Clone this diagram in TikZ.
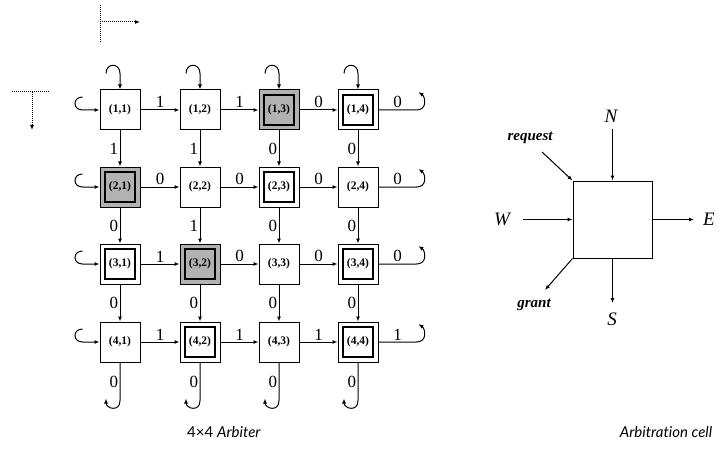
\documentclass[tikz,border=0pt]{standalone}
\usepackage{fontspec}
\setmainfont{Liberation Serif}
\newfontfamily\capfont[Ligatures=NoCommon]{Lato}
\usetikzlibrary{arrows.meta,calc}
\begin{document}
\begin{tikzpicture}[x=1pt,y=-1pt,
  tip/.style={-{Latex[length=5pt,width=4pt]}},
  wire/.style={line width=1pt},
  cellbox/.style={draw,line width=1pt,minimum size=40pt,inner sep=0pt,
    font=\fontsize{11.5}{11.5}\selectfont\bfseries},
  dblbox/.style={cellbox,path picture={
    \draw[line width=1.3pt]
      ([shift={(5pt,-5pt)}]path picture bounding box.north west) rectangle
      ([shift={(-5pt,5pt)}]path picture bounding box.south east);}},
  grantbox/.style={dblbox,fill=black!30},
  lbl/.style={font=\fontsize{17}{17}\selectfont,inner sep=1.5pt},
  dir/.style={font=\fontsize{19}{19}\selectfont\itshape,inner sep=0pt},
  sig/.style={font=\fontsize{15}{15}\selectfont\bfseries\itshape,inner sep=0pt},
  leg/.style={densely dotted,line width=1pt},
  captxt/.style={font=\capfont\fontsize{15}{15}\selectfont}
]
\useasboundingbox (0,0) rectangle (719,465);

% ---------- legend ----------
\coordinate (la) at (100,5);
\coordinate (lb) at (100,42);
\coordinate (lc) at (100,22);
\coordinate (ld) at (140,22);
\draw[leg] (la) -- (lb);
\draw[leg,tip] (lc) -- (ld);
\coordinate (ma) at (12,92);
\coordinate (mb) at (50,92);
\coordinate (mc) at (32,92);
\coordinate (md) at (32,130);
\draw[leg] (ma) -- (mb);
\draw[leg,tip] (mc) -- (md);

% ---------- cells ----------
\node[cellbox]  (c11) at (120,110) {(1,1)};
\node[cellbox]  (c12) at (200,110) {(1,2)};
\node[grantbox] (c13) at (279,110) {(1,3)};
\node[dblbox]   (c14) at (358,110) {(1,4)};
\node[grantbox] (c21) at (120,187) {(2,1)};
\node[cellbox]  (c22) at (200,187) {(2,2)};
\node[dblbox]   (c23) at (279,187) {(2,3)};
\node[cellbox]  (c24) at (358,187) {(2,4)};
\node[dblbox]   (c31) at (120,264) {(3,1)};
\node[grantbox] (c32) at (200,264) {(3,2)};
\node[cellbox]  (c33) at (279,264) {(3,3)};
\node[dblbox]   (c34) at (358,264) {(3,4)};
\node[cellbox]  (c41) at (120,342) {(4,1)};
\node[dblbox]   (c42) at (200,342) {(4,2)};
\node[cellbox]  (c43) at (279,342) {(4,3)};
\node[dblbox]   (c44) at (358,342) {(4,4)};

% ---------- horizontal connectors ----------
\draw[wire,tip] (c11) -- node[lbl,above]{1} (c12);
\draw[wire,tip] (c12) -- node[lbl,above]{1} (c13);
\draw[wire,tip] (c13) -- node[lbl,above]{0} (c14);
\draw[wire,tip] (c21) -- node[lbl,above]{0} (c22);
\draw[wire,tip] (c22) -- node[lbl,above]{0} (c23);
\draw[wire,tip] (c23) -- node[lbl,above]{0} (c24);
\draw[wire,tip] (c31) -- node[lbl,above]{1} (c32);
\draw[wire,tip] (c32) -- node[lbl,above]{0} (c33);
\draw[wire,tip] (c33) -- node[lbl,above]{0} (c34);
\draw[wire,tip] (c41) -- node[lbl,above]{1} (c42);
\draw[wire,tip] (c42) -- node[lbl,above]{1} (c43);
\draw[wire,tip] (c43) -- node[lbl,above]{1} (c44);

% ---------- vertical connectors ----------
\draw[wire,tip] (c11) -- node[lbl,left]{1} (c21);
\draw[wire,tip] (c21) -- node[lbl,left]{0} (c31);
\draw[wire,tip] (c31) -- node[lbl,left]{0} (c41);
\draw[wire,tip] (c12) -- node[lbl,left]{1} (c22);
\draw[wire,tip] (c22) -- node[lbl,left]{1} (c32);
\draw[wire,tip] (c32) -- node[lbl,left]{0} (c42);
\draw[wire,tip] (c13) -- node[lbl,left]{0} (c23);
\draw[wire,tip] (c23) -- node[lbl,left]{0} (c33);
\draw[wire,tip] (c33) -- node[lbl,left]{0} (c43);
\draw[wire,tip] (c14) -- node[lbl,left]{0} (c24);
\draw[wire,tip] (c24) -- node[lbl,left]{0} (c34);
\draw[wire,tip] (c34) -- node[lbl,left]{0} (c44);

% ---------- top hooks (wrap-around inputs) ----------
\foreach \c in {c11,c12,c13,c14}{
  \draw[wire,tip] ($(\c.north)+(-14,-16)$) .. controls +(0,-11) and +(0,-11) ..
    ($(\c.north)+(0,-16)$) -- (\c.north);
}
% ---------- left hooks ----------
\foreach \c in {c11,c21,c31,c41}{
  \draw[wire,tip] ($(\c.west)+(-17,-13)$) .. controls +(-10,0) and +(-10,0) ..
    ($(\c.west)+(-17,0)$) -- (\c.west);
}
% ---------- right outputs ----------
\draw[wire,tip] (c14.east) -- node[lbl,above]{0} ++(38,0) .. controls +(11,0) and +(7,5) .. ++(2,-18);
\draw[wire,tip] (c24.east) -- node[lbl,above]{0} ++(38,0) .. controls +(11,0) and +(7,5) .. ++(2,-18);
\draw[wire,tip] (c34.east) -- node[lbl,above]{0} ++(38,0) .. controls +(11,0) and +(7,5) .. ++(2,-18);
\draw[wire,tip] (c44.east) -- node[lbl,above]{1} ++(38,0) .. controls +(11,0) and +(7,5) .. ++(2,-18);
% ---------- bottom outputs ----------
\draw[wire,tip] (c41.south) -- node[lbl,left]{0} ++(0,38) .. controls +(0,12) and +(0,10) .. ++(-14,-2);
\draw[wire,tip] (c42.south) -- node[lbl,left]{0} ++(0,38) .. controls +(0,12) and +(0,10) .. ++(-14,-2);
\draw[wire,tip] (c43.south) -- node[lbl,left]{0} ++(0,38) .. controls +(0,12) and +(0,10) .. ++(-14,-2);
\draw[wire,tip] (c44.south) -- node[lbl,left]{0} ++(0,38) .. controls +(0,12) and +(0,10) .. ++(-14,-2);

% ---------- arbitration cell ----------
\node[draw,line width=1pt,minimum width=79pt,minimum height=77pt,inner sep=0pt] (ac) at (612.5,219.5) {};
\node[dir] (N) at (611,116) {N};
\coordinate (nin) at (612.5,129);
\draw[wire,tip] (nin) -- (ac.north);
\node[sig] (req) at (530,138) {request};
\coordinate (rin) at (542,152);
\draw[wire,tip] (rin) -- (ac.north west);
\node[dir] (W) at (502,219) {W};
\coordinate (win) at (523,219.5);
\draw[wire,tip] (win) -- (ac.west);
\coordinate (eout) at (694,219.5);
\draw[wire,tip] (ac.east) -- (eout);
\node[dir] (E) at (709,219) {E};
\coordinate (gout) at (545,290);
\draw[wire,tip] (ac.south west) -- (gout);
\node[sig] (grant) at (534,305) {grant};
\coordinate (sout) at (612.5,303);
\draw[wire,tip] (ac.south) -- (sout);
\node[dir] (S) at (612,319) {S};

% ---------- captions ----------
\node[captxt] (cap1) at (224,432) {4×4 \textit{Arbiter}};
\node[captxt] (cap2) at (666,432) {\textit{Arbitration cell}};
\end{tikzpicture}
\end{document}
